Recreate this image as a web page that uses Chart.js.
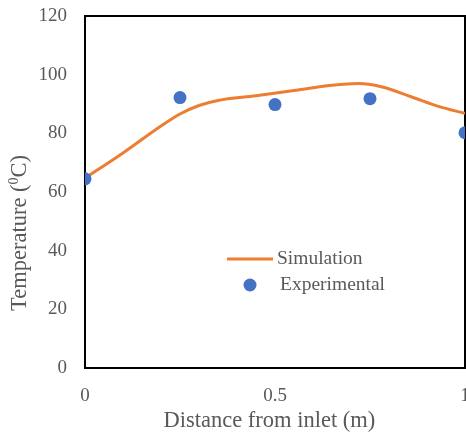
<!DOCTYPE html>
<html>
<head>
<meta charset="utf-8">
<script src="https://cdn.jsdelivr.net/npm/chart.js@4"></script>
<style>
  html, body { margin: 0; padding: 0; background: #fff; overflow: hidden; }
  #wrap { width: 466px; height: 433px; overflow: hidden; }
</style>
</head>
<body>
<div id="wrap"><canvas id="chart" width="480" height="433"></canvas></div>
<script>
"use strict";

// simulation curve (distance m, temperature C)
const simX = [0, 0.1, 0.2, 0.25, 0.3, 0.35, 0.45, 0.55, 0.65, 0.72, 0.78, 0.86, 0.93, 1.0];
const simY = [64.7, 73.3, 82.5, 86.6, 89.5, 91.2, 92.8, 94.6, 96.4, 97.0, 95.9, 92.4, 89.2, 86.8];

// experimental points
const expX = [0, 0.25, 0.5, 0.75, 1.0];
const expY = [64.5, 92.2, 89.8, 91.8, 80.2];

const yTicks = [0, 20, 40, 60, 80, 100, 120];
const xTicks = [0, 0.5, 1];

const orange = '#ED7D31',
    blue = '#4472C4',
    grey = '#595959',
    fontFam = '"Liberation Serif", "Times New Roman", serif';

const framePlugin = {
    id: 'frame',
    beforeDatasetsDraw: function(chart) {
        const a = chart.chartArea, ctx = chart.ctx;
        ctx.save();
        ctx.strokeStyle = '#000';
        ctx.lineWidth = 2;
        ctx.strokeRect(a.left, a.top, a.right - a.left, a.bottom - a.top);
        ctx.restore();
    }
};

// y title with a small raised 0, placed like the original (not centred)
const yTitlePlugin = {
    id: 'yTitle',
    afterDraw: function(chart) {
        const ctx = chart.ctx;
        const big = '22.5px ' + fontFam, small = '14px ' + fontFam;
        const p1 = 'Temperature (', p2 = '0', p3 = 'C)';
        ctx.save();
        ctx.font = big;
        const w1 = ctx.measureText(p1).width, w3 = ctx.measureText(p3).width;
        ctx.font = small;
        const w2 = ctx.measureText(p2).width;
        const total = w1 + w2 + w3;
        ctx.translate(20, 233);
        ctx.rotate(-Math.PI / 2);
        ctx.fillStyle = grey;
        ctx.textBaseline = 'middle';
        ctx.textAlign = 'left';
        let x = -total / 2;
        ctx.font = big;
        ctx.fillText(p1, x, 0);
        x += w1;
        ctx.font = small;
        ctx.fillText(p2, x, -6);
        x += w2;
        ctx.font = big;
        ctx.fillText(p3, x, 0);
        ctx.restore();
    }
};

// legend drawn inside the plot, like the original
const legendPlugin = {
    id: 'innerLegend',
    afterDatasetsDraw: function(chart) {
        const ctx = chart.ctx;
        ctx.save();
        ctx.strokeStyle = orange;
        ctx.lineWidth = 3;
        ctx.beginPath();
        ctx.moveTo(227, 259);
        ctx.lineTo(273, 259);
        ctx.stroke();
        ctx.fillStyle = blue;
        ctx.beginPath();
        ctx.arc(250, 285, 6.5, 0, Math.PI * 2);
        ctx.fill();
        ctx.fillStyle = grey;
        ctx.font = '19.5px ' + fontFam;
        ctx.textBaseline = 'middle';
        ctx.textAlign = 'left';
        ctx.fillText('Simulation', 277, 259);
        ctx.fillText('Experimental', 280, 285);
        ctx.restore();
    }
};

// invisible tick marks give the label gap without inflating the axis padding
const hiddenGrid = (len) => ({
    display: false,
    drawTicks: true,
    tickLength: len,
    color: 'rgba(0,0,0,0)'
});

new Chart(document.getElementById('chart'), {
    type: 'scatter',
    data: {
        datasets: [{
            label: 'Simulation',
            data: simX.map((x, i) => ({ x: x, y: simY[i] })),
            showLine: true,
            borderColor: orange,
            borderWidth: 3,
            pointRadius: 0,
            cubicInterpolationMode: 'monotone',
            order: 2
        }, {
            label: 'Experimental',
            data: expX.map((x, i) => ({ x: x, y: expY[i] })),
            backgroundColor: blue,
            borderWidth: 0,
            pointRadius: 6.5,
            order: 1
        }]
    },
    options: {
        responsive: false,
        animation: false,
        layout: { padding: { top: 16, right: 15, bottom: 0, left: 0 } },
        plugins: {
            legend: { display: false },
            tooltip: { enabled: false }
        },
        scales: {
            x: {
                type: 'linear',
                min: 0,
                max: 1,
                afterBuildTicks: function(scale) {
                    scale.ticks = xTicks.map(v => ({ value: v }));
                },
                afterFit: function(scale) { scale.height = 65; },
                grid: hiddenGrid(17),
                border: { display: false },
                ticks: {
                    padding: 0,
                    color: grey,
                    font: { family: fontFam, size: 19 },
                    callback: v => String(v)
                },
                title: {
                    display: true,
                    text: 'Distance from inlet (m)\u00a0\u00a0',
                    color: grey,
                    font: { family: fontFam, size: 22.5 },
                    padding: { top: 0, bottom: -2 }
                }
            },
            y: {
                min: 0,
                max: 120,
                afterBuildTicks: function(scale) {
                    scale.ticks = yTicks.map(v => ({ value: v }));
                },
                afterFit: function(scale) { scale.width = 85; },
                grid: hiddenGrid(18),
                border: { display: false },
                ticks: {
                    padding: 0,
                    color: grey,
                    font: { family: fontFam, size: 19 },
                    callback: v => String(v)
                }
            }
        }
    },
    plugins: [framePlugin, yTitlePlugin, legendPlugin]
});
</script>
</body>
</html>
